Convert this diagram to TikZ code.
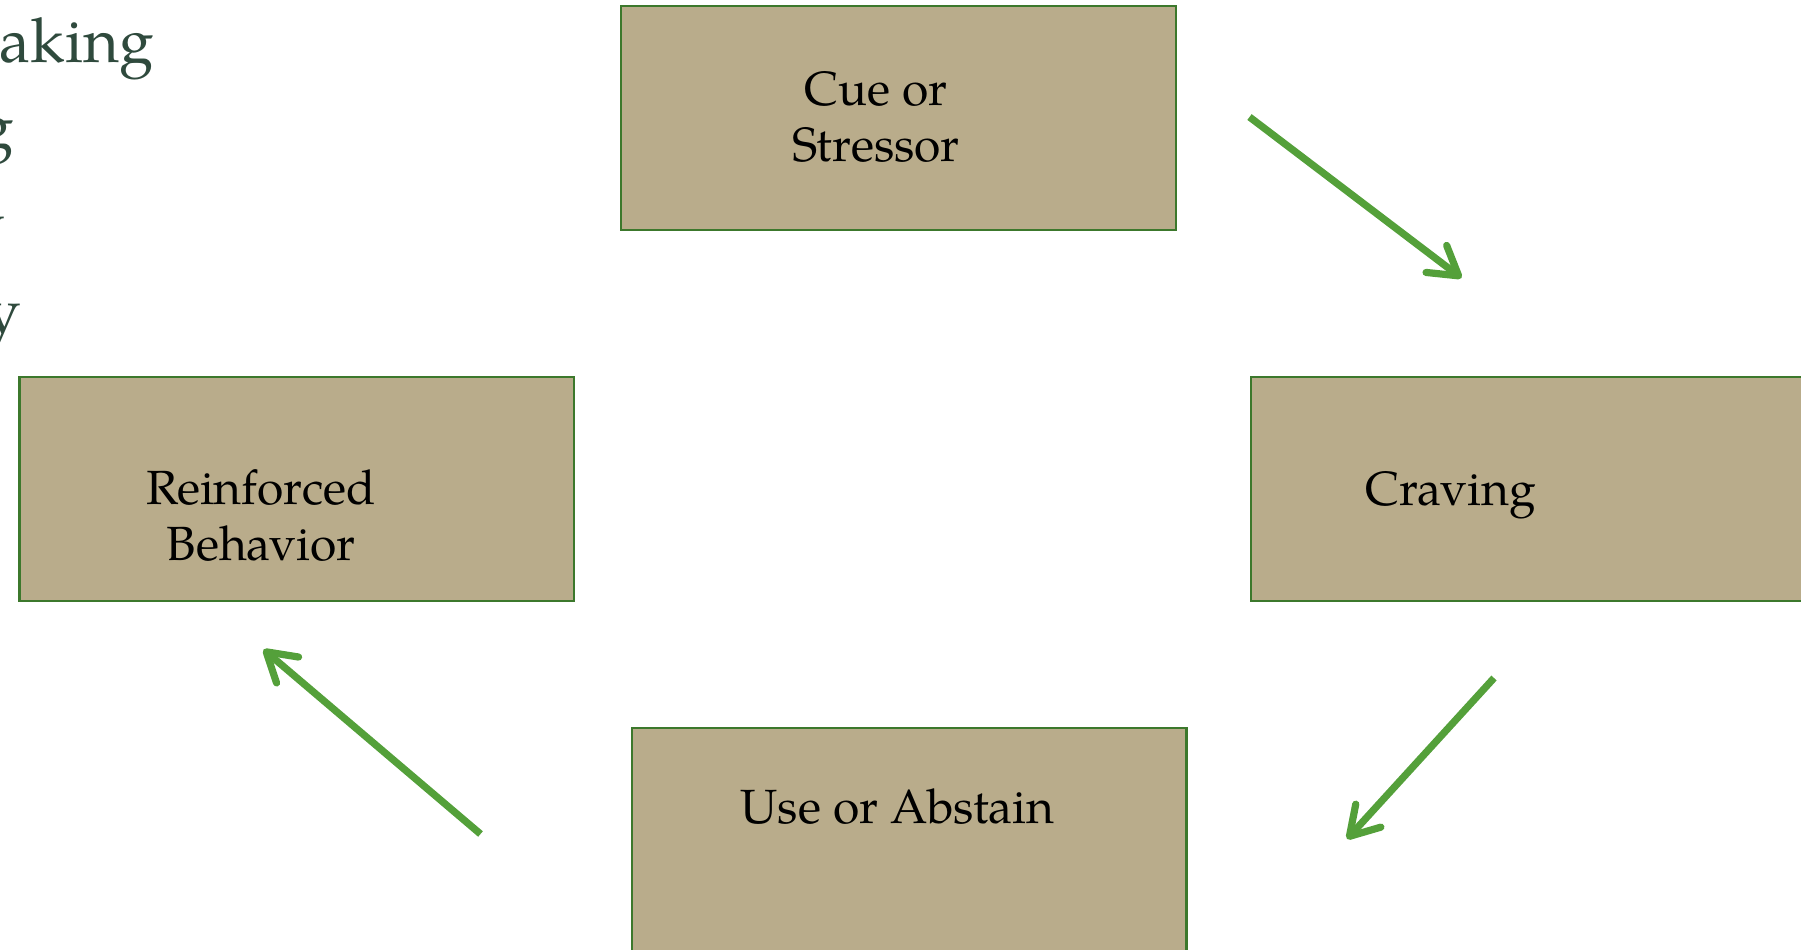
\documentclass[tikz,border=0pt]{standalone}
\usepackage{fontspec}
\setmainfont{TeX Gyre Pagella}
\usetikzlibrary{arrows.meta}
\definecolor{boxfill}{RGB}{185,172,139}
\definecolor{boxline}{RGB}{60,120,44}
\definecolor{arrowgreen}{RGB}{84,160,58}
\definecolor{sidetext}{RGB}{47,74,61}
\begin{document}
\begin{tikzpicture}[x=0.5pt,y=-0.5pt,
  stepbox/.style={draw=boxline, fill=boxfill, line width=1.1pt, rectangle, inner sep=0pt,
    minimum width=277.35pt, minimum height=112pt, anchor=north west},
  lbl/.style={anchor=base, font=\fontsize{24}{28}\selectfont, text=black, inner sep=0pt},
  side/.style={anchor=base east, font=\fontsize{31}{36}\selectfont, text=sidetext, inner sep=0pt},
  flow/.style={draw=arrowgreen, line width=3.6pt, -{Straight Barb[length=14pt,width=17pt,round]}}]
\useasboundingbox (0,0) rectangle (1801,949);
\clip (0,0) rectangle (1801,949);
% partially visible slide text
\node[side] (s1) at (154,62) {aking};
\node[side] (s2) at (14,147) {g};
\node[side] (s3) at (5,245) {y};
\node[side] (s4) at (21,332) {y};
% boxes
\node[stepbox] (cue) at (620,4.6) {};
\node[stepbox] (reinf) at (18.4,375.6) {};
\node[stepbox] (crave) at (1249.7,375.6) {};
\node[stepbox] (use) at (630.6,727) {};
% labels
\node[lbl] (cue1) at (876,105) {Cue or};
\node[lbl] (cue2) at (876,161.7) {Stressor};
\node[lbl] (re1) at (261,504) {Reinforced};
\node[lbl] (re2) at (261,560) {Behavior};
\node[lbl] (cr1) at (1450.7,505) {Craving};
\node[lbl] (us1) at (897.5,823.3) {Use or Abstain};
% arrow end points
\coordinate (a1s) at (1249.5,117);
\coordinate (a1e) at (1461.5,278);
\coordinate (a2s) at (1494,678);
\coordinate (a2e) at (1347,839);
\coordinate (a3s) at (480.5,834);
\coordinate (a3e) at (263.5,649.5);
\draw[flow] (a1s) -- (a1e);
\draw[flow] (a2s) -- (a2e);
\draw[flow] (a3s) -- (a3e);
\end{tikzpicture}
\end{document}
